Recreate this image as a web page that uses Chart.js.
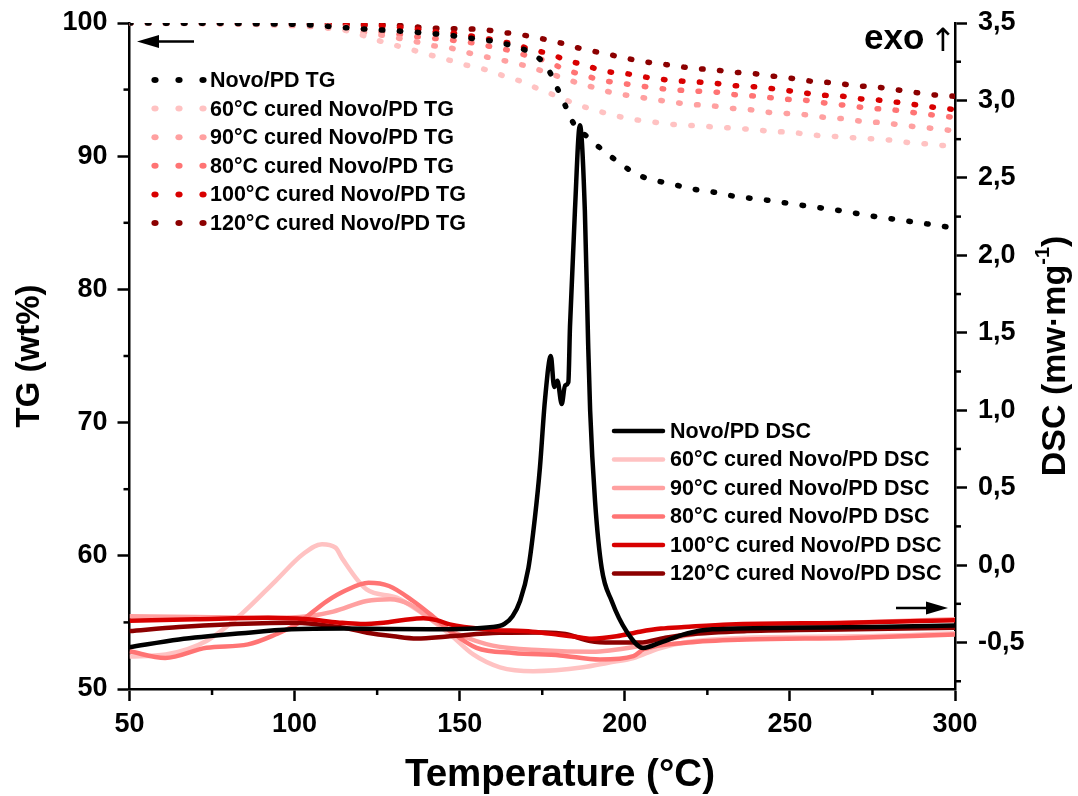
<html>
  <head>
    <title>TG / DSC of Novo/PD</title>
  </head>
  <body style="margin: 0; background: #fff">
    <canvas id="chart" width="1078" height="796"></canvas>

    <script src="https://cdn.jsdelivr.net/npm/chart.js@4"></script>
    <script type="text/javascript">
      // TG curves, [temperature °C, mass %]
      const tgNovo = [[50, 100], [100, 99.9], [118, 99.6], [137, 99.3], [149.5, 99.0], [155, 98.8], [161, 98.6], [167, 98.2], [172, 97.7], [176.4, 96.7], [179.2, 95.3], [181.8, 93.9], [184.4, 92.5], [188.9, 91.4], [193.1, 90.5], [197.8, 89.6], [202.5, 88.8], [206, 88.4], [210.6, 88.1], [216, 87.8], [221.4, 87.5], [227, 87.3], [233, 87.0], [243, 86.7], [254, 86.3], [265.7, 85.9], [272.5, 85.6], [283.6, 85.2], [294.7, 84.8], [300, 84.6]];
      const tg60 = [[50, 100], [100, 99.9], [110, 99.7], [117, 99.35], [126.5, 98.6], [135.4, 98.0], [141, 97.6], [147, 97.2], [152.6, 96.8], [157.8, 96.5], [163.6, 96.0], [168.8, 95.6], [174.3, 95.0], [179.5, 94.5], [185.3, 93.9], [190.5, 93.5], [196.2, 93.1], [201.8, 92.8], [207.5, 92.6], [214, 92.4], [220.5, 92.3], [226.8, 92.2], [233, 92.1], [239, 92.0], [244.7, 91.85], [250.4, 91.8], [256.3, 91.6], [262.7, 91.5], [268.5, 91.4], [275, 91.3], [280.7, 91.2], [286.7, 91.0], [292.5, 90.9], [300, 90.7]];
      const tg90 = [[50, 100], [100, 99.8], [115, 99.5], [123.6, 99.2], [136.7, 98.6], [141.8, 98.3], [147.6, 98.1], [153.6, 97.7], [159, 97.4], [164.8, 97.1], [169.7, 96.8], [175, 96.4], [181, 95.9], [185.8, 95.5], [191.5, 95.1], [197.3, 94.7], [203, 94.5], [207.7, 94.3], [213.4, 94.1], [219.5, 93.9], [225.7, 93.8], [232, 93.6], [237.7, 93.5], [243.4, 93.3], [249.4, 93.2], [255.2, 93.1], [260.9, 92.9], [266.6, 92.8], [272.3, 92.6], [278.9, 92.5], [284.7, 92.3], [292.8, 92.1], [300, 91.9]];
      const tg80 = [[50, 100], [110, 99.8], [130, 99.2], [136, 99.0], [148, 98.7], [154, 98.5], [160, 98.2], [165.7, 97.9], [171, 97.5], [176.8, 97.1], [181.9, 96.5], [187.4, 96.1], [193, 95.7], [198.5, 95.5], [205.3, 95.25], [214, 95.0], [220.9, 94.9], [228, 94.8], [233.8, 94.6], [240.3, 94.5], [247.3, 94.3], [254.4, 94.2], [260.4, 94.0], [267.4, 93.8], [274.2, 93.6], [280.4, 93.5], [286.4, 93.3], [293.2, 93.1], [300, 92.9]];
      const tg100 = [[50, 100], [125, 99.8], [138, 99.5], [144, 99.3], [149.5, 99.2], [155, 98.95], [161, 98.7], [166.4, 98.4], [171.9, 98.0], [176.9, 97.7], [182.6, 97.2], [188.4, 96.8], [193.6, 96.4], [200.4, 96.2], [207.2, 95.9], [213.7, 95.7], [220, 95.6], [226.3, 95.5], [233, 95.3], [240, 95.2], [247.1, 95.0], [253.1, 94.8], [259, 94.6], [266.1, 94.5], [271.5, 94.3], [277.3, 94.2], [284, 94.0], [292.7, 93.7], [300, 93.5]];
      const tg120 = [[50, 100], [125, 99.9], [143, 99.6], [157, 99.5], [163, 99.3], [169, 99.1], [175.3, 98.8], [180.6, 98.5], [186.3, 98.1], [192, 97.8], [197.8, 97.5], [203.5, 97.2], [208.5, 97.0], [214.8, 96.8], [220.5, 96.6], [226.5, 96.5], [233.3, 96.3], [239, 96.2], [245.2, 96.0], [252, 95.8], [257.4, 95.6], [263.8, 95.5], [269.4, 95.3], [276, 95.2], [282, 95.0], [287.5, 94.8], [293.7, 94.6], [300, 94.5]];

      // DSC curves, [temperature °C, mW/mg]
      const dscNovo = [[50, -0.53], [65, -0.48], [84, -0.44], [99, -0.415], [115, -0.41], [141, -0.415], [160, -0.4], [163.5, -0.38], [166, -0.33], [168.3, -0.23], [170.8, -0.02], [172.8, 0.31], [174.3, 0.63], [175.8, 1.06], [177.6, 1.35], [178.6, 1.15], [179.6, 1.19], [180.9, 1.04], [181.9, 1.16], [182.9, 1.18], [183.4, 1.54], [184.9, 2.29], [186.4, 2.84], [187.9, 2.29], [188.9, 1.43], [189.5, 1.0], [191, 0.41], [193, -0.02], [196, -0.23], [200.6, -0.43], [205.6, -0.535], [210.8, -0.5], [219.1, -0.44], [226.5, -0.415], [250, -0.405], [275, -0.4], [300, -0.39]];
      const dsc60 = [[50, -0.59], [61, -0.577], [73.3, -0.49], [83.8, -0.318], [94.2, -0.103], [102.5, 0.07], [108.3, 0.135], [112.4, 0.113], [114.5, 0.04], [121.8, -0.157], [130.9, -0.21], [139, -0.318], [147.1, -0.448], [154.1, -0.577], [162.2, -0.66], [172.3, -0.685], [187.4, -0.66], [195, -0.63], [202.6, -0.6], [210, -0.54], [218, -0.5], [235, -0.47], [270, -0.46], [300, -0.44]];
      const dsc90 = [[50, -0.33], [70, -0.335], [92, -0.34], [104, -0.33], [111.7, -0.3], [121.8, -0.232], [128.9, -0.22], [134.9, -0.254], [142, -0.36], [150, -0.45], [160, -0.52], [175, -0.55], [190, -0.56], [205, -0.52], [220, -0.45], [240, -0.4], [270, -0.37], [300, -0.35]];
      const dsc80 = [[50, -0.556], [60.8, -0.6], [73.3, -0.534], [85.9, -0.512], [94.2, -0.448], [100.5, -0.383], [109.8, -0.232], [115.1, -0.167], [122.4, -0.114], [128.6, -0.135], [135.9, -0.232], [141.1, -0.318], [147.1, -0.426], [155.1, -0.534], [166.2, -0.567], [180.4, -0.583], [192.5, -0.61], [202.6, -0.588], [205.6, -0.545], [219.1, -0.5], [236.9, -0.48], [268.2, -0.47], [300, -0.448]];
      const dsc100 = [[50, -0.36], [70, -0.35], [92, -0.34], [104, -0.35], [113, -0.37], [120, -0.38], [127, -0.372], [133, -0.355], [139, -0.344], [143, -0.355], [147, -0.383], [158, -0.415], [172, -0.43], [180, -0.45], [187.4, -0.47], [190, -0.475], [197.5, -0.46], [204.6, -0.43], [211, -0.41], [218, -0.4], [231.7, -0.383], [268, -0.372], [300, -0.356]];
      const dsc120 = [[50, -0.426], [65, -0.4], [79, -0.383], [99, -0.372], [115, -0.405], [122, -0.437], [130, -0.46], [137, -0.474], [147, -0.459], [162, -0.437], [176, -0.435], [182, -0.445], [189.5, -0.49], [196, -0.5], [204.6, -0.5], [212, -0.47], [219, -0.448], [237, -0.426], [270, -0.415], [300, -0.405]];

      const samples = ['Novo/PD', '60°C cured Novo/PD', '90°C cured Novo/PD', '80°C cured Novo/PD', '100°C cured Novo/PD', '120°C cured Novo/PD'];
      const colors = ['#000000', '#ffc2c2', '#ffa0a0', '#ff7474', '#d80000', '#8c0000'];
      const tgData = [tgNovo, tg60, tg90, tg80, tg100, tg120];
      const dscData = [dscNovo, dsc60, dsc90, dsc80, dsc100, dsc120];

      const fontFamily = '"Liberation Sans", Arial, sans-serif';
      const toPoints = (rows) => rows.map(([x, y]) => ({ x, y }));

      const tgSets = samples.map((name, i) => ({
        label: `${name} TG`,
        data: toPoints(tgData[i]),
        yAxisID: 'yTG',
        borderColor: colors[i],
        borderWidth: 5.5,
        borderDash: [1.5, 16.5],
        borderCapStyle: 'round',
        pointRadius: 0,
        cubicInterpolationMode: 'monotone',
      }));
      // black DSC drawn last so it sits on top
      const dscOrder = [0, 4, 5, 3, 2, 1];
      const dscSets = dscOrder.map((i) => ({
        label: `${samples[i]} DSC`,
        data: toPoints(dscData[i]),
        yAxisID: 'yDSC',
        borderColor: colors[i],
        borderWidth: 4.5,
        borderJoinStyle: 'round',
        pointRadius: 0,
        cubicInterpolationMode: 'monotone',
      }));

      function drawArrow(ctx, x1, x2, y) {
        const dir = Math.sign(x2 - x1);
        ctx.beginPath();
        ctx.moveTo(x1, y);
        ctx.lineTo(x2 - dir * 16, y);
        ctx.stroke();
        ctx.beginPath();
        ctx.moveTo(x2, y);
        ctx.lineTo(x2 - dir * 22, y - 6.5);
        ctx.lineTo(x2 - dir * 22, y + 6.5);
        ctx.closePath();
        ctx.fill();
      }

      const decorations = {
        id: 'decorations',
        afterDraw(chart) {
          const { ctx, scales } = chart;
          ctx.save();
          ctx.strokeStyle = '#000';
          ctx.fillStyle = '#000';
          ctx.lineWidth = 2.5;

          // minor ticks
          const minor = [
            ['x', [75, 125, 175, 225, 275]],
            ['yTG', [55, 65, 75, 85, 95]],
            ['yDSC', [3.25, 2.75, 2.25, 1.75, 1.25, 0.75, 0.25, -0.25, -0.75]],
          ];
          minor.forEach(([id, values]) => {
            const s = scales[id];
            values.forEach((v) => {
              const p = s.getPixelForValue(v);
              ctx.beginPath();
              if (id === 'x') {
                ctx.moveTo(p, s.top);
                ctx.lineTo(p, s.top + 6);
              } else if (id === 'yTG') {
                ctx.moveTo(s.right, p);
                ctx.lineTo(s.right - 6, p);
              } else {
                ctx.moveTo(s.left, p);
                ctx.lineTo(s.left + 6, p);
              }
              ctx.stroke();
            });
          });

          // legends
          ctx.font = `bold 21.5px ${fontFamily}`;
          ctx.textBaseline = 'middle';
          ctx.textAlign = 'left';
          chart.data.datasets
            .filter((d) => d.yAxisID === 'yTG')
            .forEach((d, i) => {
              const y = 80 + i * 28.6;
              ctx.fillStyle = d.borderColor;
              [155, 179, 203].forEach((x) => {
                ctx.beginPath();
                ctx.ellipse(x, y, 3.6, 3, 0, 0, Math.PI * 2);
                ctx.fill();
              });
              ctx.fillStyle = '#000';
              ctx.fillText(d.label, 210, y + 1);
            });
          const dscLegend = chart.data.datasets.filter((d) => d.yAxisID === 'yDSC');
          samples.forEach((name, i) => {
            const d = dscLegend.find((s) => s.label === `${name} DSC`);
            const y = 431 + i * 28.5;
            ctx.strokeStyle = d.borderColor;
            ctx.lineWidth = 4.5;
            ctx.lineCap = 'round';
            ctx.beginPath();
            ctx.moveTo(614, y);
            ctx.lineTo(663, y);
            ctx.stroke();
            ctx.fillStyle = '#000';
            ctx.fillText(d.label, 670, y + 1);
          });

          // arrows pointing at the axes
          ctx.strokeStyle = '#000';
          ctx.fillStyle = '#000';
          ctx.lineWidth = 2.5;
          ctx.lineCap = 'butt';
          drawArrow(ctx, 194, 137, 41.5);
          drawArrow(ctx, 896, 948, 608);

          // exo marker
          ctx.font = `bold 35px ${fontFamily}`;
          ctx.textBaseline = 'alphabetic';
          ctx.fillText('exo', 864, 49);
          ctx.font = `32px "DejaVu Sans", sans-serif`;
          ctx.textAlign = 'center';
          ctx.fillText('↑', 943, 51);

          // x axis title
          ctx.font = `bold 38.5px ${fontFamily}`;
          ctx.textBaseline = 'middle';
          ctx.fillText('Temperature (°C)', 560, 775);

          // right axis title, reading upwards like the left one
          ctx.translate(1056, 356);
          ctx.rotate(-Math.PI / 2);
          ctx.textAlign = 'left';
          const main = 'DSC (mw·mg';
          const sup = '-1';
          ctx.font = `bold 34px ${fontFamily}`;
          const wMain = ctx.measureText(main).width;
          const wParen = ctx.measureText(')').width;
          ctx.font = `bold 20px ${fontFamily}`;
          const wSup = ctx.measureText(sup).width;
          const x0 = -(wMain + wSup + wParen) / 2;
          ctx.font = `bold 34px ${fontFamily}`;
          ctx.fillText(main, x0, 0);
          ctx.fillText(')', x0 + wMain + wSup, 0);
          ctx.font = `bold 20px ${fontFamily}`;
          ctx.fillText(sup, x0 + wMain, -13);
          ctx.restore();
        },
      };

      // small lineHeight on the vertical axes keeps the label padding from pushing the plot down
      const xFont = { family: fontFamily, size: 27, weight: 'bold' };
      const yFont = { family: fontFamily, size: 27, weight: 'bold', lineHeight: 0.8 };
      const axisGrid = { drawOnChartArea: false, tickLength: 12, tickWidth: 2.5, tickColor: '#000' };
      const axisBorder = { color: '#000', width: 2.5 };

      new Chart(document.getElementById('chart'), {
        type: 'line',
        data: { datasets: [...tgSets, ...dscSets] },
        plugins: [decorations],
        options: {
          responsive: false,
          animation: false,
          layout: { padding: { top: 23, left: 0, right: 0, bottom: 0 } },
          plugins: { legend: { display: false }, tooltip: { enabled: false } },
          scales: {
            x: {
              type: 'linear',
              min: 50,
              max: 300,
              ticks: { stepSize: 50, font: xFont, color: '#000', padding: 7, maxRotation: 0 },
              grid: axisGrid,
              border: axisBorder,
              afterFit(scale) {
                scale.height = 107;
              },
            },
            yTG: {
              position: 'left',
              min: 50,
              max: 100,
              ticks: { stepSize: 10, font: yFont, color: '#000', padding: 10 },
              grid: axisGrid,
              border: axisBorder,
              title: {
                display: true,
                text: 'TG (wt%)',
                color: '#000',
                font: { family: fontFamily, size: 33, weight: 'bold' },
                padding: { top: 10, bottom: 0 },
              },
              afterFit(scale) {
                scale.width = 129.5;
              },
            },
            yDSC: {
              position: 'right',
              min: -0.8,
              max: 3.5,
              ticks: {
                stepSize: 0.5,
                font: yFont,
                color: '#000',
                padding: 11,
                callback: (v) => v.toFixed(1).replace('.', ','),
              },
              afterBuildTicks(scale) {
                scale.ticks = scale.ticks.filter((t) => Math.abs(t.value * 2 - Math.round(t.value * 2)) < 1e-6);
              },
              grid: axisGrid,
              border: axisBorder,
              afterFit(scale) {
                scale.width = 123;
              },
            },
          },
        },
      });
    </script>
  </body>
</html>
